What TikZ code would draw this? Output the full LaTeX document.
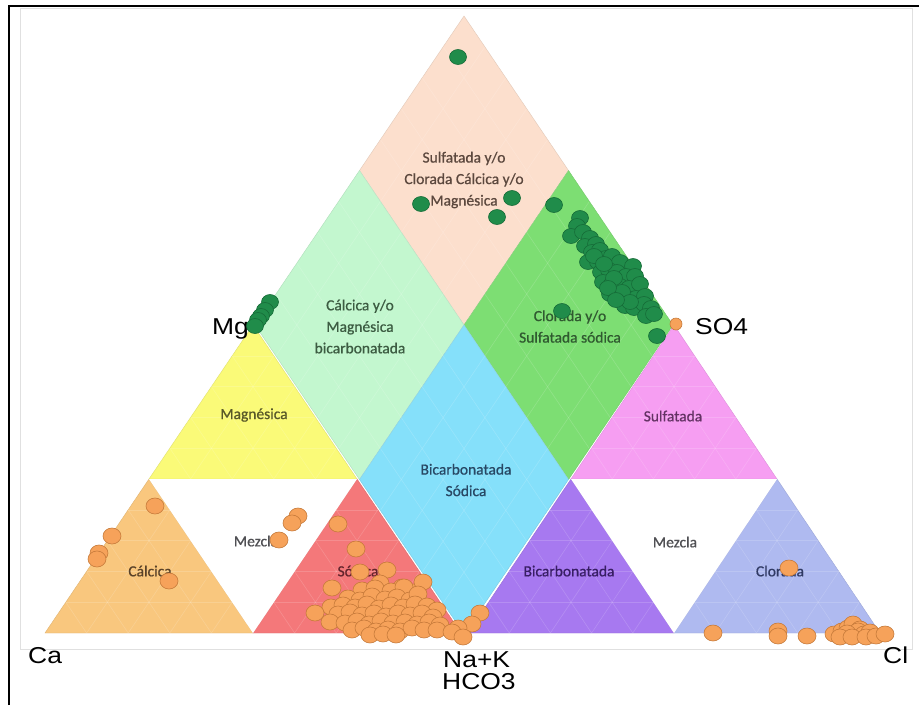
\documentclass[tikz,border=0pt]{standalone}
\usepackage{fontspec}
\setmainfont{Carlito}
\newfontfamily\axisfont[FakeStretch=1.15]{Liberation Sans}
\newfontfamily\zonefont[FakeBold=0.7]{Carlito}
\usetikzlibrary{calc}

% zone fills
\definecolor{cPeach}{RGB}{252,223,205}
\definecolor{cLgreen}{RGB}{195,247,207}
\definecolor{cGreen}{RGB}{125,222,115}
\definecolor{cCyan}{RGB}{133,224,250}
\definecolor{cYellow}{RGB}{250,250,120}
\definecolor{cPink}{RGB}{246,158,242}
\definecolor{cOrange}{RGB}{249,199,126}
\definecolor{cRed}{RGB}{244,120,122}
\definecolor{cPurple}{RGB}{167,121,240}
\definecolor{cBlue}{RGB}{175,186,240}
% zone name inks
\definecolor{tPeach}{RGB}{92,72,62}
\definecolor{tLgreen}{RGB}{60,92,66}
\definecolor{tGreen}{RGB}{48,90,48}
\definecolor{tYellow}{RGB}{88,88,40}
\definecolor{tCyan}{RGB}{40,72,100}
\definecolor{tPink}{RGB}{100,50,100}
\definecolor{tCalc}{RGB}{90,66,40}
\definecolor{tMix}{RGB}{80,80,84}
\definecolor{tSod}{RGB}{100,36,44}
\definecolor{tPurple}{RGB}{56,30,100}
\definecolor{tBlue}{RGB}{48,58,100}
% sample markers
\definecolor{dotG}{RGB}{32,140,74}
\definecolor{dotGedge}{RGB}{22,108,56}
\definecolor{dotO}{RGB}{246,162,90}
\definecolor{dotOedge}{RGB}{198,122,58}

\tikzset{
  zone/.style={font=\zonefont\fontsize{15.5}{21.5}\selectfont, align=center, inner sep=0pt},
  axislabel/.style={font=\axisfont\fontsize{23}{23}\selectfont, inner sep=0pt, anchor=base west},
  gridline/.style={white, opacity=0.16, line width=0.6pt},
  gdot/.style={fill=dotG, draw=dotGedge, line width=0.6pt},
  odot/.style={fill=dotO, draw=dotOedge, line width=0.6pt},
}

\begin{document}
\begin{tikzpicture}[x=1pt,y=-1pt]
\useasboundingbox (0,0) rectangle (919,705);
\fill[white] (0,0) rectangle (919,705);

% ---- cation triangle ----
\coordinate (Ca)  at (45,633);
\coordinate (NaK) at (461,633);
\coordinate (Mg)  at (253,325);
\coordinate (lb) at ($(Ca)!.5!(NaK)$);
\coordinate (ll) at ($(Ca)!.5!(Mg)$);
\coordinate (lr) at ($(Mg)!.5!(NaK)$);
% ---- anion triangle ----
\coordinate (HC) at (468,633);
\coordinate (Cl) at (880,633);
\coordinate (SO) at (674,325);
\coordinate (rb) at ($(HC)!.5!(Cl)$);
\coordinate (rl) at ($(HC)!.5!(SO)$);
\coordinate (rr) at ($(SO)!.5!(Cl)$);
% ---- diamond ----
\coordinate (T) at (464,16);
\coordinate (L) at (255,325);
\coordinate (B) at (464,634);
\coordinate (R) at (673,325);
\coordinate (C)  at ($(L)!.5!(R)$);
\coordinate (tl) at ($(T)!.5!(L)$);
\coordinate (tr) at ($(T)!.5!(R)$);
\coordinate (bl) at ($(B)!.5!(L)$);
\coordinate (br) at ($(B)!.5!(R)$);

% zone fills
\filldraw[fill=cOrange, draw=cOrange!90!black, line width=0.4pt] (Ca) -- (lb) -- (ll) -- cycle;
\filldraw[fill=cYellow, draw=cYellow!90!black, line width=0.4pt] (Mg) -- (ll) -- (lr) -- cycle;
\filldraw[fill=cRed,    draw=cRed!90!black,    line width=0.4pt] (lb) -- (NaK) -- (lr) -- cycle;
\fill[white] (ll) -- (lr) -- (lb) -- cycle;

\filldraw[fill=cPurple, draw=cPurple!90!black, line width=0.4pt] (HC) -- (rb) -- (rl) -- cycle;
\filldraw[fill=cPink,   draw=cPink!90!black,   line width=0.4pt] (SO) -- (rl) -- (rr) -- cycle;
\filldraw[fill=cBlue,   draw=cBlue!90!black,   line width=0.4pt] (rb) -- (Cl) -- (rr) -- cycle;
\fill[white] (rl) -- (rr) -- (rb) -- cycle;

\filldraw[fill=cPeach,  draw=cPeach!90!black,  line width=0.4pt] (T) -- (tr) -- (C) -- (tl) -- cycle;
\filldraw[fill=cLgreen, draw=cLgreen!90!black, line width=0.4pt] (tl) -- (C) -- (bl) -- (L) -- cycle;
\filldraw[fill=cGreen,  draw=cGreen!90!black,  line width=0.4pt] (tr) -- (R) -- (br) -- (C) -- cycle;
\filldraw[fill=cCyan,   draw=cCyan!90!black,   line width=0.4pt] (C) -- (br) -- (B) -- (bl) -- cycle;

% faint 10 % grid
\foreach \t in {0.1,0.2,...,0.91}{
  \draw[gridline] ($(Ca)!\t!(Mg)$) -- ($(NaK)!\t!(Mg)$);
  \draw[gridline] ($(Ca)!\t!(NaK)$) -- ($(Ca)!\t!(Mg)$);
  \draw[gridline] ($(NaK)!\t!(Ca)$) -- ($(NaK)!\t!(Mg)$);
  \draw[gridline] ($(HC)!\t!(SO)$) -- ($(Cl)!\t!(SO)$);
  \draw[gridline] ($(HC)!\t!(Cl)$) -- ($(HC)!\t!(SO)$);
  \draw[gridline] ($(Cl)!\t!(HC)$) -- ($(Cl)!\t!(SO)$);
  \draw[gridline] ($(T)!\t!(R)$) -- ($(L)!\t!(B)$);
  \draw[gridline] ($(T)!\t!(L)$) -- ($(R)!\t!(B)$);
}

% plot frame
\draw[black!12, line width=0.8pt] (20,8) rectangle (912,649);
\draw[black, line width=2pt] (9,705) -- (9,6) -- (919,6);

% zone names
\node[zone, text=tPeach] (zPeach) at (464,180) {Sulfatada y/o\\Clorada Cálcica y/o\\Magnésica};
\node[zone, text=tLgreen] (zLgreen) at (360,326.5) {Cálcica y/o\\Magnésica\\bicarbonatada};
\node[zone, text=tGreen] (zGreen) at (570,326.5) {Clorada y/o\\Sulfatada sódica};
\node[zone, text=tYellow] (zYellow) at (254,415) {Magnésica};
\node[zone, text=tCyan] (zCyan) at (466,480) {Bicarbonatada\\Sódica};
\node[zone, text=tPink] (zPink) at (673,416) {Sulfatada};
\node[zone, text=tCalc] (zCalc) at (150,571) {Cálcica};
\node[zone, text=tMix] (zMixL) at (256,541) {Mezcla};
\node[zone, text=tSod] (zSod) at (358,571) {Sódica};
\node[zone, text=tPurple] (zPurple) at (569,571) {Bicarbonatada};
\node[zone, text=tMix] (zMixR) at (675,542) {Mezcla};
\node[zone, text=tBlue] (zBlue) at (780,571) {Clorada};

% axis corner labels
\node[axislabel] (tCa)  at (28,663)  {Ca};
\node[axislabel] (tNaK) at (443,667) {Na+K};
\node[axislabel] (tHC)  at (442,689) {HCO3};
\node[axislabel] (tCl)  at (883,663) {Cl};
\node[axislabel] (tMg)  at (212,334) {Mg};
\node[axislabel] (tSO)  at (695,334) {SO4};

% green samples (diamond)
\foreach \x/\y in {458/57, 421/204, 512/198, 497/217, 554/205,
  270/302, 265/310, 261/316, 258/320, 255/326,
  580/218, 577/226, 571/236, 583/232, 590/238, 585/246, 596/244, 592/252,
  600/250, 588/262, 598/262, 606/258, 612/256, 620/262, 633/266, 601/272,
  609/270, 617/272, 626/276, 635/276, 603/282, 612/284, 620/286, 629/288,
  640/284, 610/294, 619/296, 627/298, 636/298, 645/296, 625/306, 634/308,
  644/304, 651/308, 646/316, 654/314, 562/311, 657/336,
  594/256, 604/264, 614/278, 622/292, 630/302, 608/288, 616/300}
  \draw[gdot] (\x,\y) ellipse [x radius=8.5pt, y radius=7.5pt];

% orange samples (triangles)
\draw[odot] (676,324) circle [radius=6pt];
\foreach \x/\y in {155/506, 112/536, 99/553, 97/559, 169/581,
  298/516, 292/523, 279/540, 338/524, 356/549,
  360/572, 387/570, 332/588, 380/583, 402/587, 413/592, 480/613, 472/624,
  362/590, 375/588, 391/591, 404/587, 423/582,
  348/598, 360/600, 372/596, 385/599, 397/597, 410/600, 418/594,
  331/607, 343/605, 355/607, 367/604, 379/608, 391/605, 403/607, 415/604, 427/606, 437/610,
  315/613, 338/614, 350/612, 362/615, 374/613, 386/616, 398/613, 410/615, 422/613, 433/617,
  330/622, 345/623, 357/621, 369/624, 381/621, 393/623, 405/622, 417/624, 429/622, 440/625,
  352/630, 364/628, 376/631, 388/629, 400/631, 412/628, 424/630, 437/630,
  370/635, 383/634, 396/635, 458/628, 452/632, 463/637,
  713/633, 778/631, 778/636, 807/636, 789/568,
  834/634, 842/631, 848/628, 853/624, 860/629, 858/631, 864/634, 870/632,
  847/633, 840/637, 852/637, 866/637, 876/636, 885/634}
  \draw[odot] (\x,\y) ellipse [x radius=9pt, y radius=8pt];
\end{tikzpicture}
\end{document}
